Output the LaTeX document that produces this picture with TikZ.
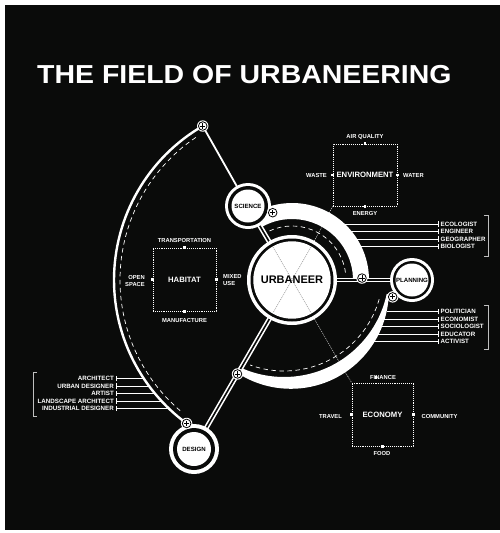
\documentclass[tikz,border=0pt]{standalone}
\usepackage{fontspec}
\usepackage{graphicx}
\setmainfont{Liberation Sans}
\usetikzlibrary{calc}
\definecolor{bg}{HTML}{0A0B0A}
\begin{document}
\begin{tikzpicture}[x=1pt,y=1pt,
 lbl/.style={text=white,font=\bfseries\fontsize{5.8}{7}\selectfont,inner sep=0pt},
 prof/.style={text=white,font=\bfseries\fontsize{6.2}{7}\selectfont,inner sep=0pt},
 boxttl/.style={text=white,font=\bfseries\fontsize{7.7}{9}\selectfont,inner sep=0pt},
 circlbl/.style={text=black,font=\bfseries\fontsize{6.1}{7}\selectfont,inner sep=0pt},
 dotbox/.style={draw=white,line width=0.65pt,dash pattern=on 1pt off 0.9pt},
 mk/.style={fill=white,minimum size=2.6pt,inner sep=0pt,rectangle},
 conn/.style={draw=white,line width=1.6pt,double=bg,double distance=1.6pt},
 pline/.style={draw=white,line width=0.8pt},
 tickmk/.style={draw=white,line width=0.8pt},
 brk/.style={draw=white!75!black,line width=0.8pt},
 dashw/.style={draw=white,line width=0.7pt,dash pattern=on 4.5pt off 3.5pt},
 xdot/.style={draw=black!55,line width=0.45pt,dash pattern=on 1pt off 1pt},
 xdotw/.style={draw=white,line width=0.45pt,dash pattern=on 1pt off 1pt},
 plusmk/.pic={\fill[white] (0,0) circle[radius=5.7];
   \draw[black,line width=0.8pt,fill=white] (0,0) circle[radius=4.3];
   \draw[black,line width=0.9pt] (-2.6,0)--(2.6,0) (0,-2.6)--(0,2.6);}
]
\useasboundingbox (0,0) rectangle (500,-533);
\fill[white] (0,0) rectangle (500,-533);
\fill[bg] (5,-5) rectangle (500,-530);

% key points
\coordinate (U) at (292,-280);
\coordinate (S) at (248,-206);
\coordinate (P) at (412,-280);
\coordinate (D) at (194,-449);
\coordinate (C2) at (284,-272);
\coordinate (O2) at (290.84,-290.79);
\coordinate (TP) at ($(U)+(120.1:178)$);
\coordinate (BP) at ($(U)+(233.7:178)$);
\coordinate (SP) at ($(U)+(106:70)$);
\coordinate (PP) at ($(U)+(1.6:70)$);
\coordinate (LR) at ($(C2)+(-12.9:111.5)$);
\coordinate (LL) at ($(U)!0.556!(D)$);

% title
\node[anchor=base west,inner sep=0pt,text=white,font=\bfseries\fontsize{26}{30}\selectfont] (title) at (37,-83) {\scalebox{1.095}[1]{THE FIELD OF URBANEERING}};

% profession lists
\foreach \n/\t/\y/\x in {eco/ECOLOGIST/224/334, eng/ENGINEER/231.5/342.5, geo/GEOGRAPHER/239/348.7, bio/BIOLOGIST/246.7/353.6,
  pol/POLITICIAN/311.7/386.6, ecn/ECONOMIST/319.3/383.3, soc/SOCIOLOGIST/326.7/379.4, edu/EDUCATOR/334/374.9, act/ACTIVIST/341.3/369.4}{
  \node[prof,anchor=west] (\n) at (440.5,-\y) {\t};
  \draw[pline] ([xshift=-2.5pt]\n.west) -- (\x,-\y);
  \draw[tickmk] ([xshift=-2.5pt,yshift=-2.6pt]\n.west) -- ++(0,5.2);
}
\foreach \n/\t/\y/\x in {arc/ARCHITECT/378.3/144, urb/URBAN DESIGNER/386/149.4, art/ARTIST/393.3/155.1, lan/LANDSCAPE ARCHITECT/401/161.9, ind/INDUSTRIAL DESIGNER/408.3/169.3}{
  \node[prof,anchor=east] (\n d) at (114,-\y) {\t};
  \draw[pline] ([xshift=2.5pt]\n d.east) -- (\x,-\y);
  \draw[tickmk] ([xshift=2.5pt,yshift=-2.6pt]\n d.east) -- ++(0,5.2);
}
\draw[brk] (484,-215) -- (488,-215) -- (488,-256) -- (484,-256);
\draw[brk] (484,-305) -- (488,-305) -- (488,-349) -- (484,-349);
\draw[brk] (37,-372) -- (33,-372) -- (33,-416) -- (37,-416);

% big left arc
\draw[white,line width=2.4pt] (TP) arc[start angle=120.1,end angle=233.7,radius=178];
\draw[dashw] ($(U)+(124:172)$) arc[start angle=124,end angle=230,radius=172];
\draw[white,line width=1.8pt] (TP) -- (S);

% boxes
\node[dotbox,boxttl,minimum width=63pt,minimum height=63pt] (hab) at (184.5,-279.5) {HABITAT};
\node[dotbox,boxttl,minimum width=64pt,minimum height=62pt] (env) at (365,-175) {ENVIRONMENT};
\node[dotbox,boxttl,minimum width=61pt,minimum height=63pt] (econ) at (382.5,-414.5) {ECONOMY};

% dotted extensions of the cross
\draw[xdotw] ($(U)+(60:39)$) -- (env.south west);
\draw[xdotw] ($(U)+(-60:39)$) -- ($(U)+(-60:105)$) -- (econ.north west);

% upper band
\fill[white] ($(U)+(-1:77)$) arc[start angle=-1,end angle=122,radius=77]
  -- ($(U)+(122:61)$) arc[start angle=122,end angle=-1,radius=61] -- cycle;
\draw[dashw] ($(U)+(8:54)$) arc[start angle=8,end angle=115,radius=54];

% lower band (crescent)
\begin{scope}
\clip (C2) -- ($(C2)+(-12:150)$) arc[start angle=-12,end angle=-114,radius=150] -- cycle;
\fill[white,even odd rule] (O2) circle[radius=98] (C2) circle[radius=105];
\end{scope}
\draw[dashw] ($(C2)+(-16:99)$) arc[start angle=-16,end angle=-110,radius=99];

% connectors
\draw[conn] (U) -- (S);
\draw[conn] (U) -- (P);
\draw[conn] (U) -- (D);

% circles
\fill[white] (U) circle[radius=45];
\fill[bg] (U) circle[radius=41.5];
\fill[white] (U) circle[radius=38.7];
\draw[xdot] ($(U)+(60:38)$) -- ($(U)+(240:38)$);
\draw[xdot] ($(U)+(120:38)$) -- ($(U)+(300:38)$);
\node[inner sep=0pt,text=black,font=\bfseries\fontsize{11}{13}\selectfont] (urbaneer) at (U) {URBANEER};

\fill[white] (S) circle[radius=23];
\fill[bg] (S) circle[radius=20];
\node[circle,fill=white,minimum size=33pt,circlbl] (sci) at (S) {SCIENCE};

\fill[white] (P) circle[radius=22];
\fill[bg] (P) circle[radius=19];
\node[circle,fill=white,minimum size=33pt,circlbl] (plan) at (P) {PLANNING};

\fill[white] (D) circle[radius=25];
\fill[bg] (D) circle[radius=21];
\node[circle,fill=white,minimum size=34pt,circlbl] (des) at (D) {DESIGN};

% plus markers
\pic at (TP) {plusmk};
\pic at (BP) {plusmk};
\pic at (SP) {plusmk};
\pic at (PP) {plusmk};
\pic at (LR) {plusmk};
\pic at (LL) {plusmk};

% box markers and labels
\foreach \b in {hab,env}{
  \node[mk] (\b N) at (\b.north) {};
  \node[mk] (\b S) at (\b.south) {};
  \node[mk] (\b W) at (\b.west) {};
  \node[mk] (\b E) at (\b.east) {};
}
\node[mk] (econS) at (econ.south) {};
\node[mk] (econW) at (econ.west) {};
\node[mk] (econE) at (econ.east) {};

\node[lbl] (habT) at (184.5,-240) {TRANSPORTATION};
\node[lbl] (habB) at (184.5,-320) {MANUFACTURE};
\node[lbl,anchor=west,align=left] (habR) at (223,-280.5) {MIXED\\USE};
\node[lbl,anchor=east,align=right] (habL) at (145,-280.5) {OPEN\\SPACE};

\node[lbl] (envT) at (365,-137) {AIR QUALITY};
\node[lbl] (envB) at (365,-214) {ENERGY};
\node[lbl,anchor=east] (envL) at (327,-176) {WASTE};
\node[lbl,anchor=west] (envR) at (403,-175.5) {WATER};

\node[lbl] (econT) at (383,-377) {FINANCE};
\node[lbl,anchor=east] (econL) at (342,-416) {TRAVEL};
\node[lbl,anchor=west] (econR) at (421.5,-416) {COMMUNITY};
\node[lbl] (econB) at (382,-453) {FOOD};
\node[mk] (econN) at (376,-377.5) {};
\end{tikzpicture}
\end{document}
